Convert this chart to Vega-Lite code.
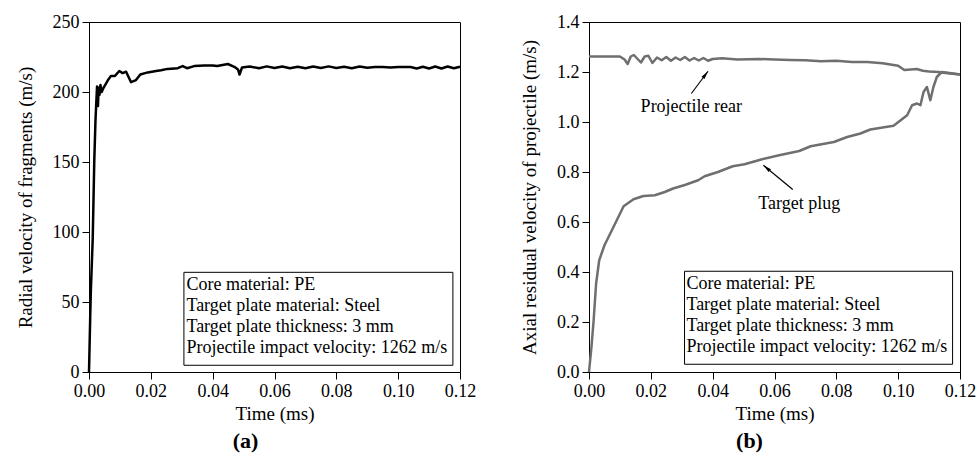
{
  "$schema": "https://vega.github.io/schema/vega-lite/v6.json",
  "padding": {"left": 15, "top": 12, "right": 0, "bottom": 5},
  "background": "white",
  "spacing": 43,
  "config": {
    "font": "Liberation Serif, Times New Roman, Times, serif",
    "view": {"stroke": "black", "strokeWidth": 1},
    "axis": {
      "grid": false,
      "domainColor": "black",
      "tickColor": "black",
      "labelColor": "black",
      "titleColor": "black",
      "labelFont": "Liberation Serif, Times New Roman, Times, serif",
      "titleFont": "Liberation Serif, Times New Roman, Times, serif",
      "labelFontSize": 18,
      "titleFontSize": 19,
      "titleFontWeight": "normal",
      "labelOverlap": false,
      "labelFlush": false,
      "labelPadding": 3
    },
    "axisY": {"titlePadding": 17},
    "title": {"font": "Liberation Serif, Times New Roman, Times, serif", "fontSize": 22, "fontWeight": "bold", "color": "black", "orient": "bottom", "anchor": "middle"},
    "text": {"font": "Liberation Serif, Times New Roman, Times, serif"}
  },
  "datasets": {
    "radial": [
      {"t": 0, "v": 0}, {"t": 0.0004, "v": 40}, {"t": 0.0006, "v": 58}, {"t": 0.0012, "v": 95},
      {"t": 0.0017, "v": 150}, {"t": 0.0021, "v": 180}, {"t": 0.0026, "v": 204}, {"t": 0.0029, "v": 190},
      {"t": 0.0031, "v": 203}, {"t": 0.0034, "v": 198}, {"t": 0.0037, "v": 205}, {"t": 0.0041, "v": 200},
      {"t": 0.0047, "v": 203}, {"t": 0.006, "v": 208}, {"t": 0.0071, "v": 211.5}, {"t": 0.0084, "v": 211.5},
      {"t": 0.0098, "v": 215}, {"t": 0.0109, "v": 213.5}, {"t": 0.012, "v": 214.5}, {"t": 0.0136, "v": 207},
      {"t": 0.0152, "v": 208.5}, {"t": 0.0166, "v": 212.5}, {"t": 0.019, "v": 214}, {"t": 0.0217, "v": 215},
      {"t": 0.0233, "v": 215.5}, {"t": 0.0254, "v": 216.5}, {"t": 0.0287, "v": 217}, {"t": 0.0303, "v": 218.5},
      {"t": 0.0317, "v": 217}, {"t": 0.034, "v": 218.5}, {"t": 0.0373, "v": 219}, {"t": 0.04, "v": 219},
      {"t": 0.0415, "v": 218.5}, {"t": 0.0449, "v": 220}, {"t": 0.047, "v": 218}, {"t": 0.0482, "v": 216},
      {"t": 0.0487, "v": 212.5}, {"t": 0.0495, "v": 217.5}, {"t": 0.052, "v": 218.2}, {"t": 0.055, "v": 217},
      {"t": 0.0575, "v": 218.3}, {"t": 0.06, "v": 217.2}, {"t": 0.0625, "v": 218.2}, {"t": 0.065, "v": 217},
      {"t": 0.0675, "v": 218}, {"t": 0.07, "v": 217}, {"t": 0.0725, "v": 218.2}, {"t": 0.075, "v": 217.2},
      {"t": 0.0775, "v": 218.3}, {"t": 0.08, "v": 217.2}, {"t": 0.0825, "v": 218}, {"t": 0.085, "v": 217},
      {"t": 0.0875, "v": 218.2}, {"t": 0.09, "v": 217.3}, {"t": 0.0925, "v": 217.8}, {"t": 0.095, "v": 217.8},
      {"t": 0.0975, "v": 217.5}, {"t": 0.1, "v": 217.8}, {"t": 0.104, "v": 217.8}, {"t": 0.106, "v": 216.8},
      {"t": 0.108, "v": 218}, {"t": 0.11, "v": 216.8}, {"t": 0.112, "v": 218.2}, {"t": 0.114, "v": 216.8},
      {"t": 0.116, "v": 218.2}, {"t": 0.118, "v": 217}, {"t": 0.12, "v": 218}
    ],
    "axial": [
      {"series": "rear", "t": 0, "v": 1.262}, {"series": "rear", "t": 0.01, "v": 1.262},
      {"series": "rear", "t": 0.0115, "v": 1.25}, {"series": "rear", "t": 0.0125, "v": 1.232},
      {"series": "rear", "t": 0.0135, "v": 1.262}, {"series": "rear", "t": 0.0145, "v": 1.268},
      {"series": "rear", "t": 0.0155, "v": 1.255}, {"series": "rear", "t": 0.0168, "v": 1.238},
      {"series": "rear", "t": 0.018, "v": 1.262}, {"series": "rear", "t": 0.0192, "v": 1.265},
      {"series": "rear", "t": 0.0205, "v": 1.236}, {"series": "rear", "t": 0.022, "v": 1.258},
      {"series": "rear", "t": 0.0235, "v": 1.247}, {"series": "rear", "t": 0.025, "v": 1.26},
      {"series": "rear", "t": 0.0265, "v": 1.245}, {"series": "rear", "t": 0.028, "v": 1.258},
      {"series": "rear", "t": 0.0295, "v": 1.248}, {"series": "rear", "t": 0.031, "v": 1.26},
      {"series": "rear", "t": 0.0325, "v": 1.246}, {"series": "rear", "t": 0.034, "v": 1.256},
      {"series": "rear", "t": 0.0355, "v": 1.246}, {"series": "rear", "t": 0.037, "v": 1.256},
      {"series": "rear", "t": 0.0385, "v": 1.245}, {"series": "rear", "t": 0.04, "v": 1.252},
      {"series": "rear", "t": 0.043, "v": 1.255}, {"series": "rear", "t": 0.048, "v": 1.25},
      {"series": "rear", "t": 0.055, "v": 1.252}, {"series": "rear", "t": 0.06, "v": 1.25},
      {"series": "rear", "t": 0.065, "v": 1.248}, {"series": "rear", "t": 0.07, "v": 1.247},
      {"series": "rear", "t": 0.075, "v": 1.243}, {"series": "rear", "t": 0.08, "v": 1.245},
      {"series": "rear", "t": 0.085, "v": 1.24}, {"series": "rear", "t": 0.09, "v": 1.24},
      {"series": "rear", "t": 0.095, "v": 1.235}, {"series": "rear", "t": 0.1, "v": 1.225},
      {"series": "rear", "t": 0.102, "v": 1.208}, {"series": "rear", "t": 0.104, "v": 1.21},
      {"series": "rear", "t": 0.106, "v": 1.212}, {"series": "rear", "t": 0.108, "v": 1.205},
      {"series": "rear", "t": 0.11, "v": 1.202}, {"series": "rear", "t": 0.113, "v": 1.2},
      {"series": "rear", "t": 0.116, "v": 1.195}, {"series": "rear", "t": 0.12, "v": 1.19},
      {"series": "plug", "t": 0, "v": 0}, {"series": "plug", "t": 0.0008, "v": 0.1},
      {"series": "plug", "t": 0.0015, "v": 0.207}, {"series": "plug", "t": 0.0023, "v": 0.354},
      {"series": "plug", "t": 0.0033, "v": 0.447}, {"series": "plug", "t": 0.005, "v": 0.507},
      {"series": "plug", "t": 0.0074, "v": 0.567}, {"series": "plug", "t": 0.0112, "v": 0.663},
      {"series": "plug", "t": 0.0144, "v": 0.691}, {"series": "plug", "t": 0.0176, "v": 0.704},
      {"series": "plug", "t": 0.0213, "v": 0.707}, {"series": "plug", "t": 0.0245, "v": 0.72},
      {"series": "plug", "t": 0.0272, "v": 0.734}, {"series": "plug", "t": 0.031, "v": 0.748},
      {"series": "plug", "t": 0.0353, "v": 0.767}, {"series": "plug", "t": 0.0374, "v": 0.783},
      {"series": "plug", "t": 0.0417, "v": 0.8}, {"series": "plug", "t": 0.0465, "v": 0.823},
      {"series": "plug", "t": 0.0503, "v": 0.831}, {"series": "plug", "t": 0.0557, "v": 0.85},
      {"series": "plug", "t": 0.0615, "v": 0.867}, {"series": "plug", "t": 0.068, "v": 0.884},
      {"series": "plug", "t": 0.0717, "v": 0.903}, {"series": "plug", "t": 0.0792, "v": 0.92},
      {"series": "plug", "t": 0.0835, "v": 0.94}, {"series": "plug", "t": 0.0878, "v": 0.954},
      {"series": "plug", "t": 0.091, "v": 0.97}, {"series": "plug", "t": 0.0985, "v": 0.985},
      {"series": "plug", "t": 0.1029, "v": 1.027}, {"series": "plug", "t": 0.1045, "v": 1.067},
      {"series": "plug", "t": 0.1061, "v": 1.074}, {"series": "plug", "t": 0.1072, "v": 1.067},
      {"series": "plug", "t": 0.1082, "v": 1.12}, {"series": "plug", "t": 0.1093, "v": 1.14},
      {"series": "plug", "t": 0.1104, "v": 1.087}, {"series": "plug", "t": 0.1114, "v": 1.14},
      {"series": "plug", "t": 0.1125, "v": 1.18}, {"series": "plug", "t": 0.1141, "v": 1.2},
      {"series": "plug", "t": 0.1178, "v": 1.194}, {"series": "plug", "t": 0.12, "v": 1.19}
    ],
    "legendA": [
      {"t": 0.0315, "v": 62.4, "label": "Core material: PE"},
      {"t": 0.0315, "v": 47.4, "label": "Target plate material: Steel"},
      {"t": 0.0315, "v": 32.4, "label": "Target plate thickness: 3 mm"},
      {"t": 0.0315, "v": 17.4, "label": "Projectile impact velocity: 1262 m/s"}
    ],
    "legendB": [
      {"t": 0.0315, "v": 0.351, "label": "Core material: PE"},
      {"t": 0.0315, "v": 0.267, "label": "Target plate material: Steel"},
      {"t": 0.0315, "v": 0.183, "label": "Target plate thickness: 3 mm"},
      {"t": 0.0315, "v": 0.099, "label": "Projectile impact velocity: 1262 m/s"}
    ],
    "boxA": [{"t": 0.0307, "t2": 0.1177, "v": 71.2, "v2": 4.8}],
    "boxB": [{"t": 0.0309, "t2": 0.1176, "v": 0.403, "v2": 0.031}],
    "arrows": [
      {"name": "rear", "t": 0.0331, "v": 1.114, "t2": 0.0385, "v2": 1.203},
      {"name": "plug", "t": 0.0659, "v": 0.73, "t2": 0.0564, "v2": 0.827}
    ],
    "notes": [
      {"t": 0.0331, "v": 1.06, "label": "Projectile rear"},
      {"t": 0.068, "v": 0.674, "label": "Target plug"}
    ]
  },
  "hconcat": [
    {
      "width": 371,
      "height": 350,
      "title": {"text": "(a)", "dx": -29, "dy": 4},
      "layer": [
        {
          "data": {"name": "boxA"},
          "mark": {"type": "rect", "fill": "white", "stroke": "black", "strokeWidth": 1},
          "encoding": {
            "x": {"field": "t", "type": "quantitative"},
            "x2": {"field": "t2"},
            "y": {"field": "v", "type": "quantitative"},
            "y2": {"field": "v2"}
          }
        },
        {
          "data": {"name": "radial"},
          "mark": {"type": "line", "color": "black", "strokeWidth": 2.5, "strokeJoin": "round"},
          "encoding": {
            "x": {
              "field": "t", "type": "quantitative",
              "scale": {"domain": [0, 0.12], "nice": false},
              "axis": {
                "title": "Time (ms)",
                "values": [0, 0.01, 0.02, 0.03, 0.04, 0.05, 0.06, 0.07, 0.08, 0.09, 0.1, 0.11, 0.12],
                "labelExpr": "abs(datum.value*50 - round(datum.value*50)) < 0.001 ? format(datum.value, '.2f') : ''",
                "tickSize": {"condition": {"test": "abs(datum.value*50 - round(datum.value*50)) < 0.001", "value": 7}, "value": 4}
              }
            },
            "y": {
              "field": "v", "type": "quantitative",
              "scale": {"domain": [0, 250], "nice": false},
              "axis": {
                "title": "Radial velocity of fragments (m/s)",
                "values": [0, 25, 50, 75, 100, 125, 150, 175, 200, 225, 250],
                "labelExpr": "datum.value % 50 == 0 ? format(datum.value, 'd') : ''",
                "tickSize": {"condition": {"test": "datum.value % 50 == 0", "value": 7}, "value": 4}
              }
            }
          }
        },
        {
          "data": {"name": "legendA"},
          "mark": {"type": "text", "align": "left", "baseline": "middle", "fontSize": 18, "color": "black"},
          "encoding": {
            "x": {"field": "t", "type": "quantitative"},
            "y": {"field": "v", "type": "quantitative"},
            "text": {"field": "label"}
          }
        }
      ]
    },
    {
      "width": 371,
      "height": 350,
      "title": {"text": "(b)", "dx": -25, "dy": 4},
      "layer": [
        {
          "data": {"name": "boxB"},
          "mark": {"type": "rect", "fill": "white", "stroke": "black", "strokeWidth": 1},
          "encoding": {
            "x": {"field": "t", "type": "quantitative"},
            "x2": {"field": "t2"},
            "y": {"field": "v", "type": "quantitative"},
            "y2": {"field": "v2"}
          }
        },
        {
          "data": {"name": "axial"},
          "mark": {"type": "line", "color": "#6f6f6f", "strokeWidth": 2.5, "strokeJoin": "round"},
          "encoding": {
            "detail": {"field": "series"},
            "x": {
              "field": "t", "type": "quantitative",
              "scale": {"domain": [0, 0.12], "nice": false},
              "axis": {
                "title": "Time (ms)",
                "values": [0, 0.01, 0.02, 0.03, 0.04, 0.05, 0.06, 0.07, 0.08, 0.09, 0.1, 0.11, 0.12],
                "labelExpr": "abs(datum.value*50 - round(datum.value*50)) < 0.001 ? format(datum.value, '.2f') : ''",
                "tickSize": {"condition": {"test": "abs(datum.value*50 - round(datum.value*50)) < 0.001", "value": 7}, "value": 4}
              }
            },
            "y": {
              "field": "v", "type": "quantitative",
              "scale": {"domain": [0, 1.4], "nice": false},
              "axis": {
                "title": "Axial residual velocity of projectile (m/s)",
                "values": [0, 0.1, 0.2, 0.3, 0.4, 0.5, 0.6, 0.7, 0.8, 0.9, 1.0, 1.1, 1.2, 1.3, 1.4],
                "labelExpr": "abs(datum.value*5 - round(datum.value*5)) < 0.001 ? format(datum.value, '.1f') : ''",
                "tickSize": {"condition": {"test": "abs(datum.value*5 - round(datum.value*5)) < 0.001", "value": 7}, "value": 4}
              }
            }
          }
        },
        {
          "data": {"name": "arrows"},
          "mark": {"type": "rule", "color": "black", "strokeWidth": 1.2},
          "encoding": {
            "x": {"field": "t", "type": "quantitative"},
            "y": {"field": "v", "type": "quantitative"},
            "x2": {"field": "t2"},
            "y2": {"field": "v2"}
          }
        },
        {
          "data": {"name": "arrows"},
          "transform": [{"filter": "datum.name == 'rear'"}],
          "mark": {"type": "point", "shape": "M0,0L0.45,2L-0.45,2Z", "filled": true, "color": "black", "opacity": 1, "size": 70, "angle": 37},
          "encoding": {
            "x": {"field": "t2", "type": "quantitative"},
            "y": {"field": "v2", "type": "quantitative"}
          }
        },
        {
          "data": {"name": "arrows"},
          "transform": [{"filter": "datum.name == 'plug'"}],
          "mark": {"type": "point", "shape": "M0,0L0.45,2L-0.45,2Z", "filled": true, "color": "black", "opacity": 1, "size": 70, "angle": 310},
          "encoding": {
            "x": {"field": "t2", "type": "quantitative"},
            "y": {"field": "v2", "type": "quantitative"}
          }
        },
        {
          "data": {"name": "notes"},
          "mark": {"type": "text", "align": "center", "baseline": "middle", "fontSize": 18, "color": "black"},
          "encoding": {
            "x": {"field": "t", "type": "quantitative"},
            "y": {"field": "v", "type": "quantitative"},
            "text": {"field": "label"}
          }
        },
        {
          "data": {"name": "legendB"},
          "mark": {"type": "text", "align": "left", "baseline": "middle", "fontSize": 18, "color": "black"},
          "encoding": {
            "x": {"field": "t", "type": "quantitative"},
            "y": {"field": "v", "type": "quantitative"},
            "text": {"field": "label"}
          }
        }
      ]
    }
  ]
}
